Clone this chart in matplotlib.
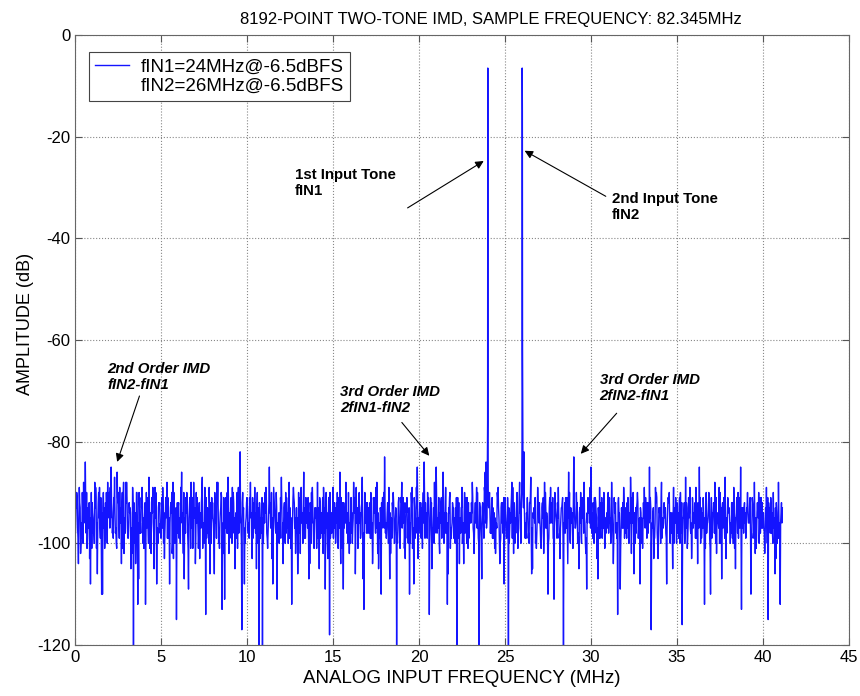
import numpy as np
import matplotlib.pyplot as plt

plt.rcParams['font.family'] = ['Liberation Sans', 'DejaVu Sans']
plt.rcParams['axes.unicode_minus'] = False

# noise floor, one value every 0.1 MHz from 0 to 41.1 MHz
noise_db = [
    -96, -90, -104, -93, -99, -88, -84, -101, -94, -108,
    -92, -98, -89, -106, -95, -91, -110, -93, -97, -88,
    -90, -85, -96, -87, -100, -92, -89, -104, -91, -95,
    -88, -99, -93, -102, -120, -94, -90, -107, -96, -89,
    -101, -112, -92, -87, -98, -94, -105, -90, -97, -93,
    -99, -89, -103, -95, -91, -108, -94, -88, -100, -115,
    -93, -97, -86, -102, -95, -90, -109, -92, -96, -88,
    -104, -91, -98, -94, -87, -100, -114, -93, -89, -97,
    -92, -106, -95, -88, -101, -90, -96, -111, -93, -87,
    -99, -94, -90, -105, -97, -89, -82, -117, -93, -100,
    -91, -96, -88, -103, -94, -98, -90, -120, -95, -120,
    -92, -89, -101, -85, -97, -108, -93, -90, -99, -94,
    -87, -104, -96, -91, -100, -93, -112, -89, -95, -98,
    -90, -102, -94, -86, -99, -92, -107, -95, -89, -101,
    -93, -88, -105, -96, -91, -98, -90, -103, -118, -94,
    -89, -97, -92, -101, -86, -95, -109, -93, -98, -90,
    -100, -94, -88, -106, -95, -91, -99, -87, -113, -96,
    -92, -98, -90, -104, -94, -89, -102, -96, -110, -91,
    -83, -99, -93, -107, -95, -90, -97, -120, -92, -101,
    -88, -96, -103, -91, -94, -100, -89, -108, -95, -85,
    -97, -92, -101, -84, -96, -90, -114, -93, -99, -88,
    -85, -95, -102, -91, -86, -98, -94, -106, -90, -97,
    -93, -100, -120, -92, -96, -89, -104, -95, -91, -99,
    -94, -88, -102, -96, -90, -120, -97, -92, -89, -84,
    -95, -90, -98, -93, -101, -96, -89, -104, -92, -97,
    -91, -99, -120, -94, -88, -102, -95, -90, -97, -93,
    -94, -82, -96, -91, -100, -87, -105, -93, -98, -89,
    -92, -101, -95, -88, -97, -110, -91, -94, -99, -90,
    -96, -89, -103, -93, -120, -98, -91, -86, -100, -94,
    -83, -97, -92, -105, -90, -95, -88, -102, -96, -93,
    -85, -99, -91, -94, -107, -89, -97, -92, -101, -95,
    -90, -96, -88, -104, -93, -99, -91, -109, -95, -89,
    -98, -92, -100, -87, -95, -106, -93, -90, -97, -94,
    -101, -89, -96, -92, -85, -117, -94, -99, -90, -103,
    -93, -88, -97, -95, -108, -91, -100, -94, -89, -96,
    -92, -99, -90, -116, -94, -87, -101, -95, -98, -91,
    -96, -89, -104, -85, -93, -97, -112, -90, -95, -99,
    -91, -94, -88, -102, -96, -90, -107, -93, -87, -98,
    -94, -100, -92, -89, -105, -95, -91, -85, -97, -93,
    -99, -90, -96, -110, -92, -88, -101, -94, -97, -91,
    -95, -102, -89, -115, -93, -98, -90, -106, -94, -88,
    -112, -96,
]
# bins at 0.05, 0.15, ... MHz
noise_mid_db = [
    -92, -97, -89, -100, -94, -91, -98, -93, -103, -90,
    -95, -88, -101, -92, -97, -110, -90, -99, -94, -93,
    -89, -94, -91, -98, -86, -96, -93, -90, -102, -88,
    -97, -92, -105, -89, -95, -99, -112, -93, -91, -100,
    -94, -90, -97, -101, -92, -96, -89, -108, -93, -98,
    -91, -100, -95, -88, -97, -93, -102, -90, -96, -92,
    -99, -89, -94, -107, -91, -98, -93, -88, -101, -95,
    -90, -97, -103, -92, -96, -89, -99, -94, -106, -91,
    -96, -93, -88, -100, -94, -113, -91, -97, -90, -102,
    -93, -89, -98, -94, -101, -92, -96, -90, -108, -95,
    -97, -91, -94, -99, -89, -105, -93, -96, -92, -100,
    -90, -98, -95, -92, -103, -89, -97, -111, -94, -91,
    -99, -93, -90, -97, -88, -101, -95, -92, -98, -106,
    -94, -89, -100, -93, -96, -91, -104, -90, -97, -93,
    -101, -95, -92, -98, -89, -109, -94, -91, -99, -96,
    -93, -100, -90, -95, -104, -92, -97, -88, -94, -102,
    -91, -97, -94, -89, -101, -96, -93, -107, -90, -98,
    -95, -92, -99, -91, -96, -88, -105, -93, -97, -90,
    -98, -94, -89, -102, -92, -97, -93, -100, -95, -91,
    -94, -101, -92, -96, -110, -90, -98, -93, -89, -103,
    -92, -96, -90, -99, -94, -91, -97, -105, -93, -95,
    -98, -91, -96, -93, -100, -89, -112, -94, -97, -92,
    -95, -99, -91, -104, -93, -97, -90, -95, -101, -94,
    -92, -97, -94, -89, -99, -93, -107, -96, -86, -95,
    -93, -98, -91, -96, -102, -90, -95, -99, -92, -108,
    -96, -91, -100, -93, -89, -97, -94, -101, -88, -92,
    -90, -97, -94, -99, -92, -106, -95, -91, -98, -93,
    -97, -93, -102, -90, -95, -99, -89, -96, -111, -94,
    -92, -99, -95, -91, -97, -94, -104, -90, -96, -101,
    -95, -90, -98, -93, -100, -91, -96, -109, -94, -89,
    -98, -94, -91, -103, -96, -92, -99, -90, -95, -97,
    -93, -100, -96, -91, -98, -114, -94, -97, -92, -99,
    -96, -91, -94, -102, -90, -97, -93, -99, -108, -95,
    -92, -97, -99, -94, -91, -96, -103, -89, -98, -93,
    -100, -95, -92, -98, -94, -90, -97, -105, -93, -96,
    -94, -91, -98, -95, -100, -92, -96, -89, -103, -97,
    -92, -99, -95, -91, -97, -94, -101, -96, -90, -110,
    -97, -93, -100, -94, -89, -98, -92, -96, -103, -91,
    -95, -98, -92, -101, -94, -90, -97, -113, -93, -96,
    -93, -96, -91, -99, -95, -102, -94, -90, -98, -92,
    -97, -93, -100, -94, -91, -98, -95, -103, -96, -99,
    -94,
]
# bins at 0.025, 0.125, ... MHz
noise_q1_db = [
    -98, -91, -95, -102, -90, -96, -93, -99, -92, -97,
    -94, -100, -91, -96, -89, -98, -93, -101, -90, -95,
    -97, -92, -99, -94, -101, -90, -96, -93, -88, -98,
    -91, -96, -94, -99, -92, -104, -95, -90, -98, -93,
    -96, -99, -91, -94, -102, -89, -97, -93, -100, -92,
    -95, -93, -98, -91, -99, -96, -90, -103, -94, -97,
    -92, -100, -96, -90, -98, -93, -95, -101, -91, -94,
    -99, -94, -92, -97, -101, -95, -91, -98, -93, -100,
    -95, -90, -99, -93, -96, -91, -102, -94, -98, -92,
    -97, -100, -92, -96, -90, -98, -94, -92, -101, -96,
    -93, -99, -95, -91, -97, -94, -100, -92, -98, -95,
    -96, -91, -98, -94, -90, -101, -95, -93, -97, -99,
    -93, -97, -100, -94, -92, -96, -99, -91, -102, -95,
    -98, -92, -95, -99, -91, -97, -94, -100, -93, -96,
    -95, -99, -91, -94, -102, -93, -97, -95, -90, -98,
    -99, -93, -96, -91, -98, -101, -92, -96, -94, -97,
    -94, -100, -92, -97, -93, -90, -98, -95, -99, -92,
    -98, -95, -93, -100, -91, -97, -94, -99, -92, -96,
    -93, -97, -100, -94, -99, -92, -95, -98, -91, -96,
    -97, -92, -95, -99, -93, -96, -101, -91, -98, -94,
    -95, -99, -93, -91, -97, -94, -100, -92, -96, -98,
    -92, -97, -94, -99, -91, -95, -98, -93, -101, -96,
    -99, -93, -96, -92, -98, -100, -94, -91, -97, -95,
    -96, -91, -98, -93, -95, -92, -99, -94, -90, -97,
    -98, -94, -92, -99, -95, -97, -93, -100, -96, -91,
    -94, -97, -93, -96, -99, -92, -98, -95, -91, -100,
    -97, -93, -99, -95, -92, -98, -94, -96, -101, -92,
    -95, -98, -91, -97, -94, -100, -96, -92, -99, -93,
    -99, -94, -97, -92, -96, -91, -98, -95, -93, -97,
    -92, -96, -100, -94, -98, -93, -95, -99, -91, -96,
    -96, -92, -98, -95, -93, -99, -91, -97, -100, -94,
    -98, -95, -93, -99, -92, -96, -94, -101, -97, -92,
    -93, -97, -99, -91, -96, -94, -98, -92, -95, -100,
    -97, -94, -92, -98, -95, -100, -93, -96, -91, -99,
    -95, -99, -96, -93, -97, -92, -94, -98, -100, -91,
    -98, -93, -95, -100, -92, -97, -99, -94, -96, -93,
    -94, -97, -92, -96, -99, -91, -95, -98, -93, -101,
    -99, -92, -96, -94, -97, -100, -93, -91, -98, -95,
    -93, -96, -99, -92, -95, -98, -94, -100, -96, -92,
    -97, -94, -92, -98, -93, -96, -99, -95, -91, -97,
    -94, -99, -96, -92, -98, -94, -97, -93, -100, -95,
    -96, -93,
]
# bins at 0.075, 0.175, ... MHz
noise_q3_db = [
    -93, -99, -92, -96, -100, -94, -90, -97, -95, -101,
    -98, -93, -96, -90, -99, -94, -97, -92, -100, -91,
    -95, -98, -93, -97, -91, -99, -94, -101, -96, -92,
    -99, -94, -97, -92, -100, -90, -96, -98, -93, -95,
    -92, -97, -100, -94, -91, -98, -95, -99, -92, -96,
    -97, -94, -91, -99, -95, -92, -100, -96, -93, -98,
    -95, -92, -98, -96, -94, -101, -91, -97, -99, -93,
    -96, -101, -94, -90, -98, -93, -97, -100, -92, -95,
    -99, -96, -92, -97, -93, -100, -95, -91, -98, -94,
    -91, -97, -95, -99, -93, -96, -100, -94, -97, -92,
    -98, -94, -100, -92, -96, -93, -97, -99, -91, -95,
    -94, -99, -92, -97, -95, -91, -98, -96, -100, -93,
    -96, -92, -98, -94, -99, -95, -91, -97, -93, -100,
    -91, -96, -93, -99, -94, -98, -92, -96, -100, -95,
    -97, -93, -99, -95, -92, -96, -100, -91, -97, -94,
    -92, -98, -94, -97, -91, -99, -95, -93, -100, -96,
    -98, -95, -91, -96, -99, -94, -92, -98, -93, -97,
    -93, -99, -96, -92, -98, -95, -100, -94, -91, -97,
    -96, -92, -98, -97, -93, -100, -94, -96, -99, -92,
    -91, -98, -94, -100, -96, -92, -97, -99, -93, -95,
    -98, -93, -96, -92, -99, -95, -91, -97, -100, -94,
    -95, -100, -92, -97, -94, -98, -96, -91, -99, -93,
    -97, -91, -99, -95, -93, -96, -98, -100, -92, -96,
    -94, -98, -92, -97, -100, -95, -93, -99, -96, -91,
    -92, -96, -99, -94, -97, -91, -100, -93, -98, -95,
    -99, -94, -97, -91, -96, -100, -92, -98, -94, -97,
    -93, -99, -95, -98, -91, -97, -93, -100, -95, -96,
    -100, -92, -97, -94, -99, -93, -96, -91, -98, -95,
    -95, -98, -93, -100, -92, -97, -94, -99, -96, -91,
    -97, -93, -99, -96, -91, -98, -100, -94, -92, -97,
    -94, -100, -92, -97, -99, -93, -96, -95, -98, -91,
    -91, -97, -99, -94, -96, -92, -100, -93, -97, -95,
    -99, -94, -96, -91, -98, -100, -92, -97, -93, -96,
    -95, -91, -98, -96, -93, -97, -99, -92, -100, -94,
    -92, -97, -94, -99, -91, -96, -98, -95, -93, -100,
    -96, -100, -92, -95, -98, -93, -91, -97, -99, -94,
    -99, -93, -97, -100, -94, -98, -92, -96, -91, -95,
    -94, -98, -91, -96, -100, -93, -97, -99, -95, -92,
    -97, -92, -100, -95, -91, -99, -96, -93, -98, -94,
    -93, -96, -98, -91, -99, -95, -92, -100, -94, -97,
    -98, -95, -91, -97, -93, -100, -96, -92, -99, -96,
    -92, -97,
]

# the two input tones and their neighbouring bins
tone_f = [23.97, 23.99, 24.0, 24.01, 24.03, 25.97, 25.99, 26.0, 26.01, 26.02, 26.04]
tone_db = [-88, -76, -6.5, -80, -92, -90, -80, -6.5, -15, -62, -82]

base = np.arange(len(noise_db)) * 0.1
f = np.concatenate([base, base[:len(noise_mid_db)] + 0.05,
                    base[:len(noise_q1_db)] + 0.025, base[:len(noise_q3_db)] + 0.075])
db = np.array(noise_db + noise_mid_db + noise_q1_db + noise_q3_db, dtype=float)
keep = (np.abs(f - 24) > 0.04) & (np.abs(f - 26) > 0.04) & (f <= 41.17)
f = np.concatenate([f[keep], tone_f])
db = np.concatenate([db[keep], tone_db])
order = np.argsort(f)
f, db = f[order], db[order]

fig = plt.figure(figsize=(8.6, 6.96), dpi=100)
ax = fig.add_axes([0.0872, 0.0733, 0.9, 0.8764])

ax.plot(f, db, color='#1414ff', lw=1.0, label='fIN1=24MHz@-6.5dBFS')
ax.plot([], [], color='none', label='fIN2=26MHz@-6.5dBFS')

ax.set_xlim(0, 45)
ax.set_ylim(-120, 0)
ax.set_xticks(range(0, 46, 5))
ax.set_yticks(range(-120, 1, 20))
ax.grid(True, ls=':', color='#888888', lw=0.8)
ax.tick_params(direction='in', top=True, right=True, labelsize=12, length=5, color='#555555')
for s in ax.spines.values():
    s.set_color('#666666')

ax.set_title('8192-POINT TWO-TONE IMD, SAMPLE FREQUENCY: 82.345MHz', fontsize=12, pad=8, x=0.537)
ax.set_xlabel('ANALOG INPUT FREQUENCY (MHz)', fontsize=13.5, labelpad=4)
ax.set_ylabel('AMPLITUDE (dB)', fontsize=13, labelpad=2, y=0.526)

leg = ax.legend(loc='upper left', bbox_to_anchor=(0.018, 0.972), borderaxespad=0,
                fontsize=13.5, handlelength=1.8, handletextpad=0.6, fancybox=False,
                framealpha=1, edgecolor='#444444', labelspacing=0.1, borderpad=0.35)
leg.get_frame().set_linewidth(0.8)
leg.get_lines()[0].set_linewidth(1.0)

arrow = dict(arrowstyle='-|>', color='k', lw=0.8, mutation_scale=12)
notes = [
    ('1st Input Tone\nfIN1', 'normal', (12.8, -26.2), (19.2, -34.3), (23.9, -24.5)),
    ('2nd Input Tone\nfIN2', 'normal', (31.2, -30.8), (31.0, -32.0), (26.0, -22.5)),
    ('2nd Order IMD\nfIN2-fIN1', 'italic', (1.9, -64.3), (3.8, -70.5), (2.4, -84.5)),
    ('3rd Order IMD\n2fIN1-fIN2', 'italic', (15.4, -68.8), (18.9, -75.8), (20.7, -83.2)),
    ('3rd Order IMD\n2fIN2-fIN1', 'italic', (30.5, -66.4), (31.6, -74.0), (29.3, -82.8)),
]
for txt, style, pos, tail, head in notes:
    ax.text(pos[0], pos[1], txt, fontsize=10.8, fontweight='bold', style=style,
            va='top', ha='left', linespacing=1.2)
    ax.annotate('', xy=head, xytext=tail, arrowprops=arrow)

fig.savefig('out.png', dpi=100)
